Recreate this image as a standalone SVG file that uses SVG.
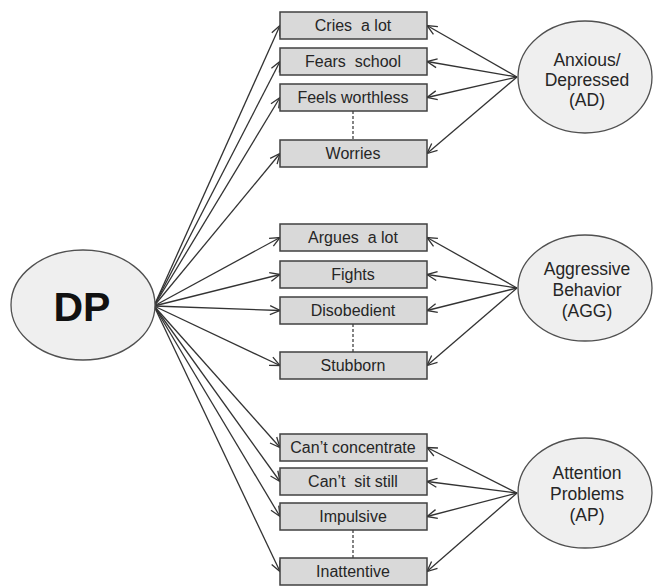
<svg xmlns="http://www.w3.org/2000/svg" width="653" height="586" viewBox="0 0 653 586">
<style>
.box{fill:#d9d9d9;stroke:#404040;stroke-width:1.5}
.ell{fill:#efefef;stroke:#505050;stroke-width:1.3}
.bt{font-family:"Liberation Sans",Arial,sans-serif;font-size:16px;fill:#262626;text-anchor:middle}
.et{font-family:"Liberation Sans",Arial,sans-serif;font-size:17.5px;fill:#262626;text-anchor:middle}
.ln{stroke:#333;stroke-width:1.3;fill:none;marker-end:url(#ah)}
.dash{stroke:#333;stroke-width:1.2;stroke-dasharray:3,2;fill:none}
</style>
<defs>
<marker id="ah" markerUnits="userSpaceOnUse" markerWidth="12" markerHeight="10" refX="11" refY="5" orient="auto" overflow="visible">
<path d="M1,0.5 L11,5 L1,9.5" fill="none" stroke="#333" stroke-width="1.3"/>
</marker>
</defs>
<rect width="653" height="586" fill="#fff"/>
<g id="connectors">
<line class="ln" x1="154" y1="306" x2="280" y2="25.5"/>
<line class="ln" x1="154" y1="306" x2="280" y2="61.5"/>
<line class="ln" x1="154" y1="306" x2="280" y2="97.5"/>
<line class="ln" x1="154" y1="306" x2="280" y2="153.5"/>
<line class="ln" x1="154" y1="306" x2="280" y2="237.5"/>
<line class="ln" x1="154" y1="306" x2="280" y2="274.5"/>
<line class="ln" x1="154" y1="306" x2="280" y2="310.5"/>
<line class="ln" x1="154" y1="306" x2="280" y2="365.5"/>
<line class="ln" x1="154" y1="306" x2="280" y2="447.5"/>
<line class="ln" x1="154" y1="306" x2="280" y2="481.5"/>
<line class="ln" x1="154" y1="306" x2="280" y2="516.5"/>
<line class="ln" x1="154" y1="306" x2="280" y2="571.5"/>
<line class="ln" x1="517" y1="77" x2="427" y2="25.5"/>
<line class="ln" x1="517" y1="77" x2="427" y2="61.5"/>
<line class="ln" x1="517" y1="77" x2="427" y2="97.5"/>
<line class="ln" x1="517" y1="77" x2="427" y2="153.5"/>
<line class="ln" x1="517" y1="288" x2="427" y2="237.5"/>
<line class="ln" x1="517" y1="288" x2="427" y2="274.5"/>
<line class="ln" x1="517" y1="288" x2="427" y2="310.5"/>
<line class="ln" x1="517" y1="288" x2="427" y2="365.5"/>
<line class="ln" x1="517" y1="493" x2="427" y2="447.5"/>
<line class="ln" x1="517" y1="493" x2="427" y2="481.5"/>
<line class="ln" x1="517" y1="493" x2="427" y2="516.5"/>
<line class="ln" x1="517" y1="493" x2="427" y2="571.5"/>
<line class="dash" x1="353" y1="111" x2="353" y2="140"/>
<line class="dash" x1="353" y1="324" x2="353" y2="352"/>
<line class="dash" x1="353" y1="530" x2="353" y2="558"/>
</g>
<g id="DP"><ellipse class="ell" cx="83" cy="305" rx="72" ry="55"/><text x="82" y="321" font-family="Liberation Sans,Arial,sans-serif" font-size="41" font-weight="bold" fill="#111" text-anchor="middle">DP</text></g>
<g id="AD"><ellipse class="ell" cx="585" cy="77" rx="67" ry="56"/><text class="et" x="587" y="66">Anxious/</text><text class="et" x="587" y="86">Depressed</text><text class="et" x="587" y="106">(AD)</text></g>
<g id="AGG"><ellipse class="ell" cx="585" cy="288" rx="67" ry="53"/><text class="et" x="587" y="275">Aggressive</text><text class="et" x="587" y="296">Behavior</text><text class="et" x="587" y="317">(AGG)</text></g>
<g id="AP"><ellipse class="ell" cx="585" cy="493" rx="67" ry="55"/><text class="et" x="587" y="479">Attention</text><text class="et" x="587" y="500">Problems</text><text class="et" x="587" y="521">(AP)</text></g>
<g id="cries"><rect class="box" x="280" y="12" width="147" height="27"/><text class="bt" x="353" y="31" xml:space="preserve">Cries  a lot</text></g>
<g id="fears"><rect class="box" x="280" y="48" width="147" height="27"/><text class="bt" x="353" y="67" xml:space="preserve">Fears  school</text></g>
<g id="worthless"><rect class="box" x="280" y="84" width="147" height="27"/><text class="bt" x="353" y="103">Feels worthless</text></g>
<g id="worries"><rect class="box" x="280" y="140" width="147" height="27"/><text class="bt" x="353" y="159">Worries</text></g>
<g id="argues"><rect class="box" x="280" y="224" width="147" height="27"/><text class="bt" x="353" y="243" xml:space="preserve">Argues  a lot</text></g>
<g id="fights"><rect class="box" x="280" y="261" width="147" height="27"/><text class="bt" x="353" y="280">Fights</text></g>
<g id="disobedient"><rect class="box" x="280" y="297" width="147" height="27"/><text class="bt" x="353" y="316">Disobedient</text></g>
<g id="stubborn"><rect class="box" x="280" y="352" width="147" height="27"/><text class="bt" x="353" y="371">Stubborn</text></g>
<g id="concentrate"><rect class="box" x="280" y="434" width="147" height="27"/><text class="bt" x="353" y="453">Can’t concentrate</text></g>
<g id="sitstill"><rect class="box" x="280" y="468" width="147" height="27"/><text class="bt" x="353" y="487" xml:space="preserve">Can’t  sit still</text></g>
<g id="impulsive"><rect class="box" x="280" y="503" width="147" height="27"/><text class="bt" x="353" y="522">Impulsive</text></g>
<g id="inattentive"><rect class="box" x="280" y="558" width="147" height="27"/><text class="bt" x="353" y="577">Inattentive</text></g>
</svg>
